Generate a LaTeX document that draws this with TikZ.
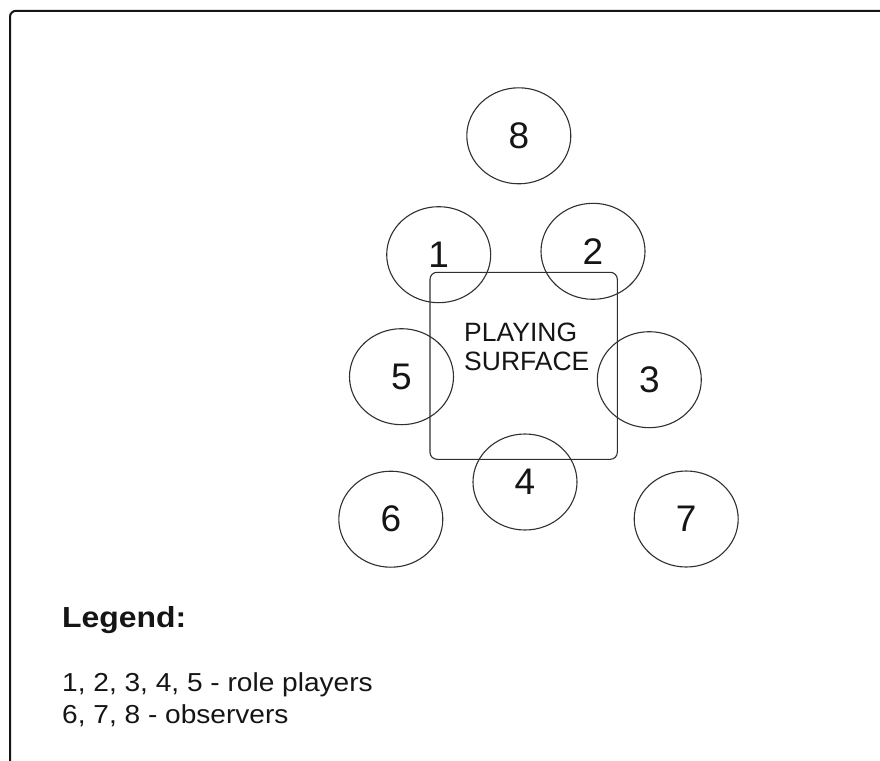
\documentclass[tikz,border=0pt]{standalone}
\usepackage{fontspec}
\setmainfont{Liberation Sans}
\newfontfamily\legfont[FakeStretch=1.08]{Liberation Sans}
\newfontfamily\legboldfont[FakeStretch=1.1]{Liberation Sans Bold}
\usetikzlibrary{shapes.geometric}
\definecolor{ink}{HTML}{151515}
\definecolor{linec}{HTML}{303030}
\tikzset{
  seat/.style={ellipse, draw=linec, line width=1.1pt, minimum width=104pt, minimum height=96pt, inner sep=0pt, text=ink, font=\fontsize{37}{40}\selectfont},
  surf/.style={draw=linec, line width=1.1pt, rounded corners=7pt},
  surftext/.style={anchor=base west, inner sep=0pt, text=ink, font=\fontsize{26.5}{30}\selectfont},
  legtext/.style={anchor=base west, inner sep=0pt, text=ink, font=\legfont\fontsize{26}{30}\selectfont},
  legtitle/.style={anchor=base west, inner sep=0pt, text=ink, font=\legboldfont\fontsize{29}{32}\selectfont}
}
\begin{document}
\begin{tikzpicture}[x=1pt,y=-1pt]
\useasboundingbox (0,0) rectangle (880,760);
\fill[white] (0,0) rectangle (880,760);
% frame
\draw[line width=2pt, draw=ink, rounded corners=6pt] (10,761) -- (10,10.8) -- (881,10.8);
% playing surface
\draw[surf] (430,272.3) rectangle (617.3,459.3);
\node[surftext] (playing) at (464,341.7) {PLAYING};
\node[surftext] (surface) at (464,370) {SURFACE};
% seats
\node[seat] (s8) at (518.8,135.8) {8};
\node[seat] (s1) at (438.7,254.7) {1};
\node[seat] (s2) at (593,251.3) {2};
\node[seat] (s5) at (401.5,376.7) {5};
\node[seat] (s3) at (649.3,379.7) {3};
\node[seat] (s4) at (525,482) {4};
\node[seat] (s6) at (390.8,519.2) {6};
\node[seat] (s7) at (686.2,519) {7};
% legend
\node[legtitle] (legend) at (62,627.3) {Legend:};
\node[legtext] (leg1) at (62,691.7) {1, 2, 3, 4, 5 - role players};
\node[legtext] (leg2) at (62,723.3) {6, 7, 8 - observers};
\end{tikzpicture}
\end{document}
